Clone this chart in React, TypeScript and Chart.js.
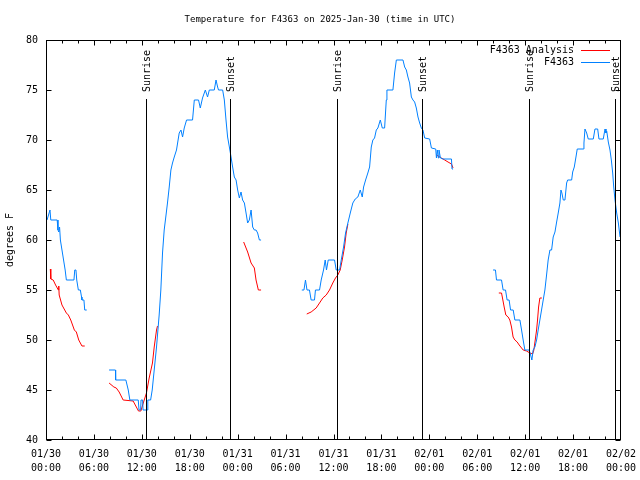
import React, { useEffect, useRef } from "react";
import { Chart, registerables } from "chart.js";

Chart.register(...registerables);

// ---- data (hours since 01/30 00:00 UTC, degrees F) ----
const obsSeg1: [number, number][] = [[0.13,62],[0.5,63],[0.6,62],[1.4,62],[1.5,61],[1.6,60.8],[1.7,61.3],[1.8,60],[2.0,59],[2.2,58],[2.4,57],[2.55,56],[3.5,56],[3.6,57],[3.75,57],[3.85,56],[4.05,55],[4.3,55],[4.45,54.3],[4.5,54],[4.75,54],[4.85,53],[5.1,53]];
const obsSeg2: [number, number][] = [[7.9,47],[8.7,47],[8.72,46],[10.0,46],[10.3,45],[10.5,44],[11.55,44],[11.65,43],[11.85,43],[11.9,44],[12.1,44],[12.15,43],[12.7,43],[12.75,44],[13.1,44],[13.3,45],[13.55,47],[13.84,49.3],[14.17,52.5],[14.38,55],[14.59,58.7],[14.8,61],[15.0,62.3],[15.21,63.7],[15.43,65.3],[15.64,67],[15.84,67.7],[16.06,68.3],[16.34,69],[16.68,70.7],[16.9,71],[17.1,70.3],[17.31,71.2],[17.6,72],[18.35,72],[18.57,74],[19.1,74],[19.32,73.2],[19.6,74.2],[19.95,75],[20.23,74.3],[20.45,75],[21.07,75],[21.29,76],[21.49,75.3],[21.6,75],[22.12,75],[22.33,74],[22.54,72],[22.74,70.3],[22.96,69.3],[23.17,68.3],[23.37,67.3],[23.58,66.3],[23.8,66],[24.0,65],[24.21,64.2],[24.42,64.8],[24.62,64],[24.84,63.7],[25.05,62.7],[25.25,61.7],[25.46,62],[25.68,63],[25.88,61.3],[26.09,61],[26.3,61],[26.5,60.7],[26.72,60],[26.93,60]];
const obsSeg3: [number, number][] = [[32.03,55],[32.3,55],[32.49,56],[32.68,55],[32.99,55],[33.2,54],[33.62,54],[33.74,55],[34.25,55],[34.46,56],[34.75,57],[34.96,58],[35.12,57],[35.34,58],[36.13,58],[36.34,57],[36.76,57],[36.97,58],[37.26,59.3],[37.51,60.7],[37.8,61.7],[38.1,62.7],[38.42,63.7],[38.72,64.1],[39.05,64.3],[39.35,65],[39.6,64.3],[39.77,65.3],[40.02,66],[40.3,66.7],[40.52,67.3],[40.73,69.3],[40.93,70],[41.14,70.2],[41.36,71],[41.56,71.2],[41.86,72],[42.11,71.2],[42.4,71.2],[42.61,74],[42.69,75],[43.44,75],[43.65,76.7],[43.87,78],[44.7,78],[44.91,77.3],[45.12,77],[45.32,76.3],[45.53,75.7],[45.75,74.3],[45.95,74],[46.16,73.8],[46.37,73.2],[46.58,72.3],[46.79,71.7],[47.0,71.2],[47.2,71],[47.42,70.2],[48.04,70.1],[48.26,69.2],[48.8,69.1],[48.89,68.2],[49.0,69],[49.13,68.2],[49.21,69],[49.39,68.2],[49.71,68.1],[50.77,68.1],[50.84,67.1],[50.97,67.1]];
const obsSeg4: [number, number][] = [[55.98,57],[56.28,57],[56.41,56],[57.04,56],[57.24,55],[57.54,55],[57.74,54],[57.99,54],[58.17,53],[58.5,53],[58.71,52],[59.34,52],[59.55,51],[59.75,50],[59.96,49],[60.5,49],[60.68,48.5],[60.84,48],[61.0,49],[61.22,49.3],[61.43,50],[61.63,51],[61.84,52],[62.05,53],[62.26,54],[62.47,55],[62.68,56.5],[62.88,58],[63.1,59],[63.31,59],[63.51,60.3],[63.73,60.8],[63.94,61.8],[64.14,62.7],[64.35,63.7],[64.48,65],[64.6,64.7],[64.77,64],[64.98,64],[65.19,65.7],[65.32,66],[65.82,66],[65.95,66.8],[66.15,67.3],[66.36,68.3],[66.52,69.1],[67.28,69.1],[67.36,69.7],[67.49,71.1],[67.7,70.7],[67.9,70.1],[68.53,70.1],[68.74,71.1],[69.08,71.1],[69.24,70.1],[69.78,70.1],[70.0,71.1],[70.12,70.7],[70.21,70.9],[70.41,69.8],[70.62,69],[70.79,68],[70.96,66.7],[71.09,65.3],[71.25,64],[71.46,62.7],[71.67,61.7],[71.88,60.3]];

const anaSeg1: [number, number][] = [[0.54,57.1],[0.6,56.1],[0.9,56],[1.2,55.5],[1.55,55],[1.6,55.4],[1.65,54.5],[2.0,53.5],[2.55,52.7],[2.8,52.5],[3.1,52],[3.55,51],[3.8,50.8],[4.1,50],[4.5,49.4],[4.85,49.4]];
const anaSeg2: [number, number][] = [[7.9,45.7],[8.5,45.3],[8.8,45.2],[9.16,44.8],[9.66,44],[10.91,43.9],[11.58,42.9],[11.88,42.9],[12.1,43.5],[12.3,44],[12.58,44.7],[12.92,46.2],[13.33,47.7],[13.55,49.3],[13.84,51],[13.96,51.4]];
const anaSeg3: [number, number][] = [[24.75,59.8],[25.25,58.8],[25.68,57.7],[26.09,57.2],[26.3,56],[26.59,55],[26.93,55]];
const anaSeg4: [number, number][] = [[32.65,52.6],[33.2,52.8],[33.83,53.2],[34.25,53.7],[34.66,54.2],[35.09,54.5],[35.5,55],[35.91,55.7],[36.25,56.2],[36.54,56.5],[36.84,57],[37.09,58],[37.38,59.3],[37.59,60.7],[37.8,61.6]];
const anaSeg5: [number, number][] = [[48.89,68.5],[49.51,68.2],[49.93,68],[50.34,67.8],[50.77,67.6],[50.97,67.2]];
const anaSeg6: [number, number][] = [[56.7,54.7],[57.04,54.7],[57.16,54.2],[57.37,53.3],[57.58,52.5],[57.87,52.3],[58.08,52],[58.29,51.3],[58.49,50.3],[58.71,50],[59.0,49.8],[59.25,49.5],[59.55,49.2],[59.75,49],[60.17,48.9],[60.59,48.7],[60.93,48.6],[61.09,49],[61.26,50],[61.43,51],[61.55,52],[61.68,53.3],[61.84,54.2],[62.09,54.2]];

const sunHours = [12.56, 23.08, 36.48, 47.12, 60.52, 71.21];
const sunLabels = ["Sunrise", "Sunset", "Sunrise", "Sunset", "Sunrise", "Sunset"];

const tickDates = ["01/30","01/30","01/30","01/30","01/31","01/31","01/31","01/31","02/01","02/01","02/01","02/01","02/02"];
const tickTimes = ["00:00","06:00","12:00","18:00","00:00","06:00","12:00","18:00","00:00","06:00","12:00","18:00","00:00"];

const seriesNames = ["F4363 Analysis", "F4363"];
const seriesColors = ["#ff0000", "#0080ff"];

const FONT = "'DejaVu Sans Mono', monospace";

function joinSegments(segs: [number, number][][]) {
  const out: { x: number; y: number | null }[] = [];
  segs.forEach((seg, i) => {
    if (i > 0) out.push({ x: (segs[i - 1][segs[i - 1].length - 1][0] + seg[0][0]) / 2, y: null });
    seg.forEach(([x, y]) => out.push({ x, y }));
  });
  return out;
}

const framePlugin = {
  id: "frame",
  afterDatasetsDraw(chart: any) {
    const { ctx, chartArea, scales } = chart;
    const xs = scales.x;
    const ys = scales.y;
    const L = Math.round(chartArea.left) + 0.5;
    const R = Math.round(chartArea.right) - 0.5;
    const T = Math.round(chartArea.top) + 0.5;
    const B = Math.round(chartArea.bottom) - 0.5;
    const clampX = (p: number) => Math.min(Math.max(p, L), R);
    ctx.save();
    ctx.strokeStyle = "#000";
    ctx.lineWidth = 1;
    // sun lines
    ctx.font = `10px ${FONT}`;
    ctx.fillStyle = "#000";
    sunHours.forEach((h, i) => {
      const px = Math.round(xs.getPixelForValue(h)) + 0.5;
      ctx.beginPath();
      ctx.moveTo(px, 99);
      ctx.lineTo(px, B);
      ctx.stroke();
      ctx.save();
      ctx.translate(px + 1, 92);
      ctx.rotate(-Math.PI / 2);
      ctx.textAlign = "left";
      ctx.textBaseline = "middle";
      ctx.fillText(sunLabels[i], 0, 0);
      ctx.restore();
    });
    // border
    ctx.strokeRect(L, T, R - L, B - T);
    // y ticks
    for (let v = ys.min; v <= ys.max; v += 5) {
      const py = Math.round(ys.getPixelForValue(v)) + 0.5;
      ctx.beginPath();
      ctx.moveTo(L, py); ctx.lineTo(L + 5, py);
      ctx.moveTo(R, py); ctx.lineTo(R - 5, py);
      ctx.stroke();
    }
    // x ticks
    for (let h = xs.min; h <= xs.max; h += 2) {
      const px = clampX(Math.round(xs.getPixelForValue(h)) + 0.5);
      const len = h % 6 === 0 ? 5 : 3;
      ctx.beginPath();
      ctx.moveTo(px, B); ctx.lineTo(px, B - len);
      ctx.moveTo(px, T); ctx.lineTo(px, T + len);
      ctx.stroke();
    }
    // legend
    ctx.textAlign = "right";
    ctx.textBaseline = "middle";
    seriesNames.forEach((name, i) => {
      const y = 50 + i * 12;
      ctx.fillStyle = "#000";
      ctx.fillText(name, 574, y);
      ctx.strokeStyle = seriesColors[i];
      ctx.beginPath();
      ctx.moveTo(581, y + 0.5);
      ctx.lineTo(610, y + 0.5);
      ctx.stroke();
    });
    ctx.restore();
  },
};

export default function App() {
  const ref = useRef<HTMLCanvasElement | null>(null);
  useEffect(() => {
    if (!ref.current) return;
    const chart = new Chart(ref.current, {
      type: "line",
      data: {
        datasets: [
          {
            label: seriesNames[1],
            data: joinSegments([obsSeg1, obsSeg2, obsSeg3, obsSeg4]) as any,
            borderColor: seriesColors[1],
            borderWidth: 1,
            pointRadius: 0,
            spanGaps: false,
            tension: 0,
            order: 1,
          },
          {
            label: seriesNames[0],
            data: joinSegments([anaSeg1, anaSeg2, anaSeg3, anaSeg4, anaSeg5, anaSeg6]) as any,
            borderColor: seriesColors[0],
            borderWidth: 1,
            pointRadius: 0,
            spanGaps: false,
            tension: 0,
            order: 2,
          },
        ],
      },
      options: {
        animation: false,
        responsive: false,
        devicePixelRatio: 1,
        layout: { padding: 0 },
        plugins: {
          legend: { display: false },
          tooltip: { enabled: false },
          title: {
            display: true,
            text: "Temperature for F4363 on 2025-Jan-30 (time in UTC)",
            color: "#000",
            font: { family: FONT, size: 9, weight: "normal", lineHeight: "12px" },
            padding: { top: 14, bottom: 14 },
          },
        },
        scales: {
          x: {
            type: "linear",
            min: 0,
            max: 72,
            grid: { display: false, drawTicks: false },
            border: { display: false },
            afterFit: (s: any) => { s.height = 40; s.paddingLeft = 0; s.paddingRight = 19; },
            ticks: {
              stepSize: 6,
              autoSkip: false,
              maxRotation: 0,
              color: "#000",
              padding: 7,
              font: { family: FONT, size: 10, lineHeight: "14px" },
              callback: (v: any) => {
                const i = Math.round(Number(v) / 6);
                return [tickDates[i], tickTimes[i]];
              },
            },
          },
          y: {
            min: 40,
            max: 80,
            grid: { display: false, drawTicks: false },
            border: { display: false },
            afterFit: (s: any) => { s.width = 46; s.paddingTop = 0; s.paddingBottom = 0; },
            title: {
              display: true,
              text: "degrees F",
              color: "#000",
              font: { family: FONT, size: 10 },
              padding: { top: 4, bottom: 4 },
            },
            ticks: {
              stepSize: 5,
              color: "#000",
              padding: 8,
              font: { family: FONT, size: 10 },
            },
          },
        },
      },
      plugins: [framePlugin],
    } as any);
    return () => chart.destroy();
  }, []);
  return (
    <div style={{ position: "fixed", left: 0, top: 0, width: 640, height: 480, background: "#fff" }}>
      <canvas ref={ref} width={640} height={480} />
    </div>
  );
}
